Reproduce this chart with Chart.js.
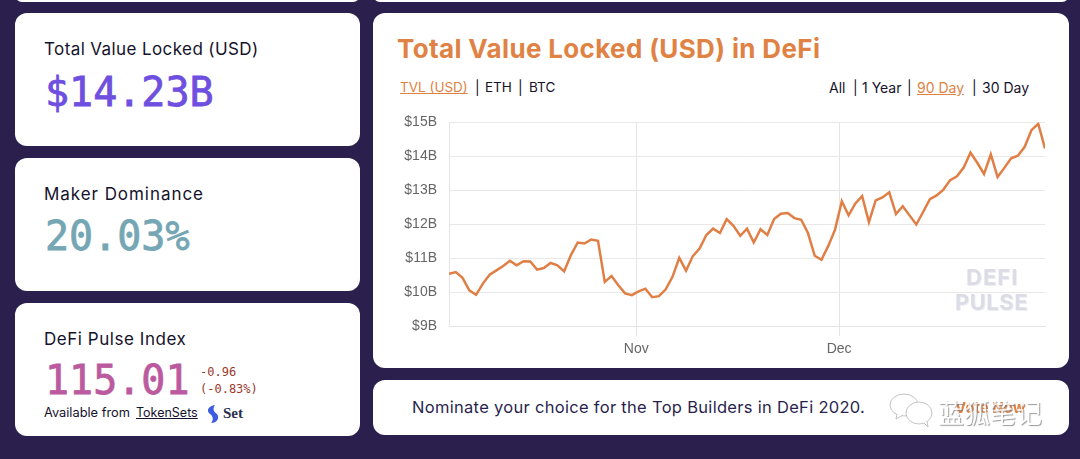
<!DOCTYPE html>
<html>
<head>
<meta charset="utf-8">
<script src="https://cdn.jsdelivr.net/npm/chart.js@4"></script>
<style>
    html, body { margin: 0; padding: 0; }
    body { width: 1080px; height: 459px; background: #2a1f4d; position: relative; overflow: hidden; font-family: "Inter", sans-serif; color: #15122b; }
    .card { position: absolute; background: #fff; border-radius: 12px; }
    .txt { position: absolute; white-space: nowrap; line-height: 1; }
    .mono { font-family: "DejaVu Sans Mono", monospace; }
    .num { font-size: 40px; -webkit-text-stroke: .8px currentColor; }
    .rotulo { font-size: 17px; }
    .aba { top: 81px; font-size: 14px; }
    .ativa { color: #e08244; text-decoration: underline; }
    #grafico { position: absolute; left: 395px; top: 102px; }
</style>
</head>
<body>
<div class="card" style="left:15px;top:-12px;width:345px;height:14px"></div>
<div class="card" style="left:373px;top:-12px;width:696px;height:14px"></div>
<div class="card" style="left:15px;top:13px;width:345px;height:133px"></div>
<div class="card" style="left:15px;top:158px;width:345px;height:133px"></div>
<div class="card" style="left:15px;top:303px;width:345px;height:133px"></div>
<div class="card" style="left:373px;top:13px;width:696px;height:355px"></div>
<div class="card" style="left:373px;top:380px;width:696px;height:55px"></div>

<div class="txt rotulo" style="left:44px;top:41px;letter-spacing:.4px">Total Value Locked (USD)</div>
<div class="txt mono num" style="left:45px;top:72px;color:#6f4fe0">$14.23B</div>
<div class="txt rotulo" style="left:44px;top:186px;letter-spacing:.95px">Maker Dominance</div>
<div class="txt mono num" style="left:45px;top:216px;color:#74a6b4">20.03%</div>
<div class="txt rotulo" style="left:44px;top:331px;letter-spacing:.55px">DeFi Pulse Index</div>
<div class="txt mono num" style="left:45px;top:360px;color:#bb5a9f">115.01</div>
<div class="txt mono" style="left:200px;top:366px;font-size:12px;color:#9a3a2c">-0.96</div>
<div class="txt mono" style="left:200px;top:383px;font-size:12px;color:#9a3a2c">(-0.83%)</div>
<div class="txt" style="left:44px;top:407px;font-size:12.8px">Available from</div>
<div class="txt" style="left:136px;top:407px;font-size:12.5px;text-decoration:underline">TokenSets</div>
<svg style="position:absolute;left:205px;top:404px" width="16" height="21"><path d="M10 1C3 2 1 7 5 10c3 2 4 6 1 9 6 0 9-5 6-9C9 8 7 5 10 1z" fill="#3d5be0"/></svg>
<div class="txt" style="left:223px;top:406px;font-size:15px;font-weight:bold;font-family:'Liberation Serif',serif;color:#2a2d4f">Set</div>

<div class="txt" style="left:397px;top:36px;font-size:26px;font-weight:bold;color:#e08244;letter-spacing:.35px">Total Value Locked (USD) in DeFi</div>
<div class="txt aba ativa" style="left:400px;font-size:13.5px">TVL (USD)</div>
<div class="txt aba" style="left:475px">|</div>
<div class="txt aba" style="left:485px;font-size:13.5px">ETH</div>
<div class="txt aba" style="left:518px">|</div>
<div class="txt aba" style="left:529px;font-size:13.5px">BTC</div>
<div class="txt aba" style="left:829px">All</div>
<div class="txt aba" style="left:853px">|</div>
<div class="txt aba" style="left:862px">1 Year</div>
<div class="txt aba" style="left:907px">|</div>
<div class="txt aba ativa" style="left:917px">90 Day</div>
<div class="txt aba" style="left:972px">|</div>
<div class="txt aba" style="left:982px">30 Day</div>

<canvas id="grafico" width="660" height="258"></canvas>

<div class="txt" style="left:966px;top:266px;font-size:22px;font-weight:bold;letter-spacing:1px;color:#dcdce6;text-shadow:1px 1px 0 #eeeef3">DEFI</div>
<div class="txt" style="left:955px;top:291px;font-size:22px;font-weight:bold;letter-spacing:.5px;color:#dcdce6;text-shadow:1px 1px 0 #eeeef3">PULSE</div>

<div class="txt" style="left:412px;top:399px;font-size:16.5px;letter-spacing:.3px;color:#2a1f4d">Nominate your choice for the Top Builders in DeFi 2020.</div>
<div class="txt" style="left:955px;top:400px;font-size:15px;font-weight:bold;color:#e08244">Vote Now</div>
<svg style="position:absolute;left:888px;top:390px" width="50" height="40" fill="#fff" stroke="#c4c4c4" stroke-width="1">
    <ellipse cx="16" cy="15" rx="14" ry="11"/>
    <path d="M9 24l-1 5 7-4"/>
    <ellipse cx="31" cy="23" rx="13" ry="11"/>
    <path d="M36 33l4 4-1-6"/>
</svg>
<div class="txt" style="left:938px;top:399px;font-size:26px;font-family:'Noto Sans CJK SC',sans-serif;color:#fff;opacity:.75;text-shadow:1px 1px 1px #777">蓝狐笔记</div>

<script>
// valores, em bilhoes de dolares, um ponto por dia
const tvlValores = [
    10.54, 10.59, 10.42, 10.05, 9.92, 10.25, 10.51, 10.64, 10.77, 10.92,
    10.79, 10.91, 10.90, 10.66, 10.71, 10.86, 10.79, 10.61, 11.09, 11.46,
    11.43, 11.55, 11.51, 10.30, 10.47, 10.20, 9.96, 9.91, 10.02, 10.10,
    9.85, 9.88, 10.08, 10.45, 11.01, 10.63, 11.06, 11.28, 11.68, 11.87,
    11.74, 12.15, 11.95, 11.66, 11.87, 11.46, 11.85, 11.68, 12.15, 12.31,
    12.33, 12.18, 12.13, 11.74, 11.07, 10.95, 11.36, 11.84, 12.68, 12.26,
    12.61, 12.83, 12.06, 12.70, 12.79, 12.94, 12.30, 12.53, 12.26, 11.99,
    12.36, 12.74, 12.85, 13.02, 13.30, 13.41, 13.67, 14.11, 13.81, 13.48,
    14.06, 13.39, 13.66, 13.94, 14.02, 14.28, 14.77, 14.96, 14.23
];
const dias = tvlValores.map((v, i) => i);
const meses = ['Nov', 'Dec'];
const mesesPosicao = [27.65, 57.6];

const ctx = document.getElementById('grafico');

new Chart(ctx, {
    type: 'line',
    data: {
        datasets: [{
            data: tvlValores.map((v, i) => ({ x: dias[i], y: v })),
            borderColor: '#e07f45',
            borderWidth: 2.5,
            pointRadius: 0,
            tension: 0,
            fill: false
        }]
    },
    options: {
        responsive: false,
        animation: false,
        layout: { padding: { right: 10 } },
        plugins: { legend: { display: false }, tooltip: { enabled: false } },
        scales: {
            x: {
                type: 'linear',
                min: 0,
                max: dias[dias.length - 1],
                afterBuildTicks: (eixo) => {
                    eixo.ticks = mesesPosicao.map((p) => ({ value: p }));
                },
                afterFit: (eixo) => { eixo.height = 34; },
                grid: { color: '#e4e4e4', tickLength: 10 },
                border: { color: '#e4e4e4' },
                ticks: {
                    autoSkip: false,
                    maxRotation: 0,
                    padding: 5,
                    color: '#666',
                    font: { family: 'Liberation Sans', size: 14 },
                    callback: (v) => meses[mesesPosicao.indexOf(v)]
                }
            },
            y: {
                min: 9,
                max: 15,
                afterFit: (eixo) => { eixo.width = 54; },
                grid: { color: '#e8e8e8', tickLength: 0 },
                border: { color: '#e4e4e4' },
                ticks: {
                    stepSize: 1,
                    padding: 12,
                    color: '#666',
                    font: { family: 'Liberation Sans', size: 14 },
                    callback: (v) => '$' + v + 'B'
                }
            }
        }
    }
});
</script>
</body>
</html>
